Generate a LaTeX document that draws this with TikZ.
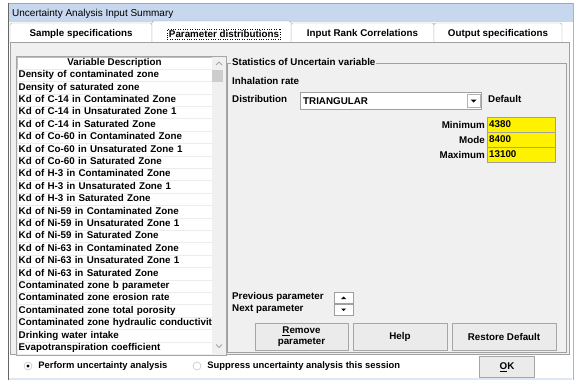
\documentclass[tikz,border=0pt]{standalone}
\usepackage{fontspec}
\setmainfont{Liberation Sans}
\usetikzlibrary{positioning}
\definecolor{winbg}{HTML}{F0F0F0}
\definecolor{titleblue}{HTML}{C6D7EE}
\definecolor{btnface}{HTML}{EBEBEB}
\definecolor{thumbgray}{HTML}{CDCDCD}
\definecolor{edgegray}{HTML}{A0A0A0}

\begin{document}
\begin{tikzpicture}[x=1pt, y=-1pt,
    ui/.style={font=\fontsize{9.8}{10.5}\selectfont\bfseries, inner sep=1pt},
    tabbox/.style={ui, draw=edgegray, fill=white, rounded corners=2pt, minimum height=22pt},
    rowbox/.style={ui, draw=gray!15, fill=white, anchor=west, text width=192pt, align=left, inner xsep=1.5pt, inner ysep=0pt, minimum height=12.4pt, text height=7pt, text depth=2pt},
    valbox/.style={ui, draw=edgegray, fill=yellow, anchor=west, text width=64pt, align=left, inner xsep=2pt, minimum height=15pt},
    btn/.style={ui, draw=gray!70, fill=btnface, align=center},
    spinbtn/.style={draw=edgegray, fill=white, minimum width=19pt, minimum height=11pt, inner sep=0pt},
    radio/.style={circle, draw=gray!60, fill=white, minimum size=8pt, inner sep=0pt}
]
    \useasboundingbox (0,0) rectangle (574,380);
    \fill[white] (0,0) rectangle (574,380);

    % Window frame and title bar
    \fill[titleblue] (8,3) rectangle (573,22);
    \draw[gray!70] (8,3) -- (573,3);
    \draw[gray!80!black] (8,3) -- (8,380);
    \draw[gray!60] (573,3) -- (573,380);
    \node[font=\fontsize{10}{12}\selectfont, anchor=west, inner sep=0pt] (wintitle) at (12,14) {Uncertainty Analysis Input Summary};

    % Tabs
    \node[tabbox, minimum width=142pt] (tabsample) at (81,34) {Sample specifications};
    \node[tabbox, minimum width=143pt] (tabrank) at (362.5,34) {Input Rank Correlations};
    \node[tabbox, minimum width=128pt] (tabout) at (498,34) {Output specifications};
    \node[tabbox, minimum width=139pt, minimum height=24pt] (tabparam) at (221.5,33) {};
    \node[ui, draw, dotted, inner sep=1.5pt] (tabparamtext) at (224,34) {Parameter distributions};

    % Tab panel
    \draw[edgegray, fill=winbg] (10,42) rectangle (569,354);
    \fill[white] (9,355) rectangle (572,377);
    \fill[titleblue!60] (9,377.5) rectangle (572,380);

    % Variable list
    \draw[gray!70, fill=white] (16,56) rectangle (226,355);
    \node[ui, draw=gray!50, fill=white, minimum width=195pt, minimum height=12pt, inner sep=0pt] (listhead) at (114.5,63) {Variable Description};
    \node[rowbox] (row1) at (17,75.2) {Density of contaminated zone};
    \node[rowbox] (row2) at (17,87.6) {Density of saturated zone};
    \node[rowbox] (row3) at (17,100.0) {Kd of C-14 in Contaminated Zone};
    \node[rowbox] (row4) at (17,112.4) {Kd of C-14 in Unsaturated Zone 1};
    \node[rowbox] (row5) at (17,124.8) {Kd of C-14 in Saturated Zone};
    \node[rowbox] (row6) at (17,137.2) {Kd of Co-60 in Contaminated Zone};
    \node[rowbox] (row7) at (17,149.6) {Kd of Co-60 in Unsaturated Zone 1};
    \node[rowbox] (row8) at (17,162.0) {Kd of Co-60 in Saturated Zone};
    \node[rowbox] (row9) at (17,174.4) {Kd of H-3 in Contaminated Zone};
    \node[rowbox] (row10) at (17,186.8) {Kd of H-3 in Unsaturated Zone 1};
    \node[rowbox] (row11) at (17,199.2) {Kd of H-3 in Saturated Zone};
    \node[rowbox] (row12) at (17,211.6) {Kd of Ni-59 in Contaminated Zone};
    \node[rowbox] (row13) at (17,224.0) {Kd of Ni-59 in Unsaturated Zone 1};
    \node[rowbox] (row14) at (17,236.4) {Kd of Ni-59 in Saturated Zone};
    \node[rowbox] (row15) at (17,248.8) {Kd of Ni-63 in Contaminated Zone};
    \node[rowbox] (row16) at (17,261.2) {Kd of Ni-63 in Unsaturated Zone 1};
    \node[rowbox] (row17) at (17,273.6) {Kd of Ni-63 in Saturated Zone};
    \node[rowbox] (row18) at (17,286.0) {Contaminated zone b parameter};
    \node[rowbox] (row19) at (17,298.4) {Contaminated zone erosion rate};
    \node[rowbox] (row20) at (17,310.8) {Contaminated zone total porosity};
    \node[rowbox] (row21) at (17,323.2) {\mbox{Contaminated zone hydraulic conductivit}};
    \node[rowbox] (row22) at (17,335.6) {Drinking water intake};
    \node[rowbox] (row23) at (17,348.0) {Evapotranspiration coefficient};

    % Scroll bar
    \fill[winbg] (212,56.5) rectangle (225.5,354.5);
    \node[fill=thumbgray, minimum width=11pt, minimum height=12pt, inner sep=0pt] (thumb) at (217.5,76) {};
    \draw[gray!70, line width=0.8pt] (216,65) -- (219,62) -- (222,65);
    \draw[gray!70, line width=0.8pt] (216,344.5) -- (219,347.5) -- (222,344.5);

    % Statistics group
    \draw[edgegray] (227,63) rectangle (566,352);
    \node[ui, fill=winbg, anchor=west] (grouplbl) at (231,62) {Statistics of Uncertain variable};
    \node[ui, anchor=west] (varname) at (231,81) {Inhalation rate};
    \node[ui, anchor=west] (distlbl) at (231,98.5) {Distribution};
    \node[draw=edgegray, fill=white, minimum width=181pt, minimum height=17pt, inner sep=0pt] (distcombo) at (390.5,100.5) {};
    \node[ui, anchor=west] (disttext) at (302,101) {TRIANGULAR};
    \node[draw=gray!60, fill=white, minimum size=13pt, inner sep=0pt] (ddbtn) at (473.5,100.5) {};
    \fill (470.5,99.5) -- (476.5,99.5) -- (473.5,102.5) -- cycle;
    \node[ui, anchor=west] (defaultlbl) at (487,98.5) {Default};

    % Values
    \node[valbox] (minval) at (487,124.5) {4380};
    \node[valbox] (modeval) at (487,139.5) {8400};
    \node[valbox] (maxval) at (487,154.5) {13100};
    \node[ui, left=1pt of minval] (minlbl) {Minimum};
    \node[ui, left=1pt of modeval] (modelbl) {Mode};
    \node[ui, left=1pt of maxval] (maxlbl) {Maximum};

    % Previous / next
    \node[ui, anchor=west] (prevlbl) at (231,297) {Previous parameter};
    \node[ui, anchor=west] (nextlbl) at (231,309) {Next parameter};
    \node[spinbtn] (prevbtn) at (343.5,297.5) {};
    \node[spinbtn] (nextbtn) at (343.5,309.5) {};
    \fill (341,299) -- (346,299) -- (343.5,296.5) -- cycle;
    \fill (341,308.5) -- (346,308.5) -- (343.5,311) -- cycle;

    % Buttons
    \node[btn, minimum width=93pt, minimum height=27pt] (removebtn) at (301.5,336.5) {\underline{R}emove\\parameter};
    \node[btn, minimum width=94pt, minimum height=27pt] (helpbtn) at (400,336.5) {Help};
    \node[btn, minimum width=104pt, minimum height=27pt] (restorebtn) at (504,336.5) {Restore Default};

    % Bottom bar
    \node[radio] (perfradio) at (28,366) {};
    \fill (perfradio) circle (1.6);
    \node[ui, font=\fontsize{9.4}{10}\selectfont\bfseries, right=5pt of perfradio] (perflbl) {Perform uncertainty analysis};
    \node[radio] (suppradio) at (197,366) {};
    \node[ui, font=\fontsize{9.4}{10}\selectfont\bfseries, right=5pt of suppradio] (supplbl) {Suppress uncertainty analysis this session};
    \node[btn, minimum width=55pt, minimum height=21pt] (okbtn) at (507,367) {\underline{O}K};
\end{tikzpicture}
\end{document}
